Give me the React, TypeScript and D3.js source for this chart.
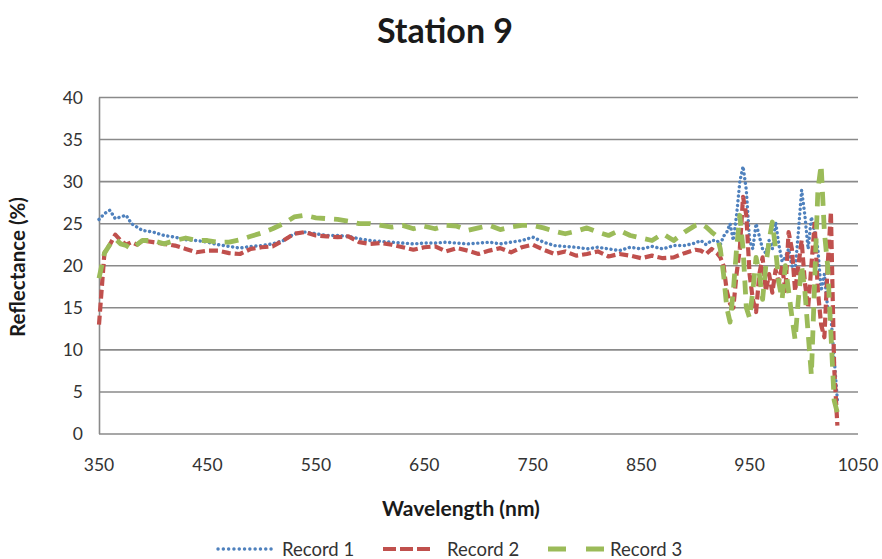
import React from "react";
import * as d3 from "d3";

const wavelengths = [
  350, 355, 360, 365, 370, 375, 380, 385, 390,
  400, 410, 420, 430, 440, 450, 460, 470, 480, 490,
  500, 510, 520, 530, 540, 550, 560, 570, 580, 590,
  600, 610, 620, 630, 640, 650, 660, 670, 680, 690,
  700, 710, 720, 730, 740, 750, 760, 770, 780, 790,
  800, 810, 820, 830, 840, 850, 860, 870, 880, 890, 900,
  905, 910, 915,
  920, 923, 926, 929, 932, 935, 938, 941, 944, 947, 950, 953, 956, 959, 962, 965, 968, 971, 974,
  977, 980, 983, 986, 989, 992, 995, 998, 1001, 1004, 1007, 1010, 1013, 1016, 1019, 1022, 1025, 1028, 1031,
];

const record1 = [
  25.5, 26.2, 26.6, 25.6, 25.8, 26.0, 25.0, 24.6, 24.2,
  24.0, 23.6, 23.4, 23.1, 23.0, 22.8, 22.5, 22.3, 22.1, 22.3,
  22.4, 22.6, 23.0, 23.8, 24.0, 23.8, 23.6, 23.6, 23.5, 23.2,
  23.0, 22.9, 22.8, 22.7, 22.6, 22.7, 22.7, 22.8, 22.7, 22.6,
  22.7, 22.8, 22.6, 22.8, 23.0, 23.4, 22.8, 22.4, 22.3, 22.2,
  22.0, 22.2, 22.0, 21.8, 22.2, 22.0, 22.3, 22.0, 22.4, 22.4, 22.7,
  23.0, 22.5, 23.0,
  23.0, 22.5, 23.5, 24.0, 25.0, 23.0, 26.0, 30.0, 31.8, 29.0, 23.0, 22.0, 25.0, 23.5, 22.0, 21.5, 23.0, 22.0, 25.2,
  22.5, 20.5, 21.0, 22.0, 20.0, 19.5, 24.0, 29.0, 26.0, 22.0, 25.8, 24.0, 22.0, 17.0, 19.0, 15.0, 14.0, 9.0, 4.0,
];

const record2 = [
  13.0, 21.5, 22.5, 23.7, 23.0, 22.5, 22.8, 22.5, 23.0,
  22.8, 22.6, 22.4, 22.0, 21.6, 21.8, 21.8, 21.5, 21.4, 22.0,
  22.2, 22.3, 23.0, 23.8, 24.0, 23.6, 23.5, 23.4, 23.5, 22.8,
  22.6, 22.7, 22.5, 22.2, 21.9, 22.2, 22.3, 21.7, 22.1, 21.8,
  21.4, 21.8, 22.1, 21.6, 22.2, 22.5, 21.9, 21.4, 21.7, 21.2,
  21.4, 21.7, 21.1, 21.4, 21.2, 20.9, 21.2, 20.9, 21.0, 21.5, 21.9,
  21.8, 21.4, 22.0,
  21.5, 21.0, 20.0, 17.0, 15.5, 15.0, 19.0, 22.0, 28.2, 26.0, 19.0, 16.0, 14.5, 19.0, 21.0, 17.0, 19.0, 16.8, 19.5,
  18.0, 20.0, 17.0, 24.0, 22.0, 17.0, 20.0, 23.0, 18.0, 15.0, 20.0, 25.0, 17.0, 13.0, 11.5, 20.0, 26.4, 8.0, 1.0,
];

const record3 = [
  18.5, 21.5, 22.5, 23.2, 22.6, 22.4, 22.0, 22.5, 23.0,
  23.0, 22.6, 23.0, 23.3, 23.0, 23.0, 22.8, 22.8, 23.1, 23.5,
  23.9, 24.4, 25.0, 25.8, 26.0, 25.7, 25.6, 25.5, 25.3, 25.0,
  25.0, 24.8, 24.6, 24.8, 24.4, 24.7, 24.4, 24.8, 24.7, 24.2,
  24.5, 24.8, 24.3, 24.6, 24.8, 24.8, 24.5, 24.1, 23.8, 24.1,
  24.5, 24.0, 23.6, 24.2, 23.6, 23.3, 23.0, 23.8, 23.0, 24.0, 24.8,
  25.0, 24.6, 24.0,
  23.5, 22.0, 19.0, 15.0, 13.3, 17.0, 22.0, 26.0, 22.0, 15.0, 13.8, 17.0, 21.0, 19.0, 16.0, 20.0, 23.0, 25.2, 22.0,
  18.0, 16.0, 20.0, 17.0, 14.0, 11.2, 16.0, 20.0, 17.0, 12.0, 7.0, 18.0, 29.0, 32.0, 24.0, 20.0, 12.0, 4.0, 2.5,
];

const seriesNames = ["Record 1", "Record 2", "Record 3"];
const yTicks = [0, 5, 10, 15, 20, 25, 30, 35, 40];
const xTicks = [350, 450, 550, 650, 750, 850, 950, 1050];

const seriesStyles = [
  { color: "#4F81BD", width: 3.4, dash: "0.1 4.6", cap: "round" as const },
  { color: "#C0504D", width: 4.2, dash: "9 4", cap: "butt" as const },
  { color: "#9BBB59", width: 4.8, dash: "14 9", cap: "butt" as const },
];

const FONT = "Lato, 'Open Sans', 'Liberation Sans', sans-serif";

export default function App() {
  const W = 882;
  const H = 559;
  const x = d3.scaleLinear().domain([350, 1050]).range([99, 858]);
  const y = d3.scaleLinear().domain([0, 40]).range([434, 97.5]);

  const data = [record1, record2, record3];
  const line = d3
    .line<number>()
    .x((_, i) => x(wavelengths[i]))
    .y((d) => y(d));

  const legendItems = [
    { lx: 218, len: 58, tx: 282, dash: "0.1 5.2" },
    { lx: 383, len: 48, tx: 447, dash: "13 4" },
    { lx: 548, len: 56, tx: 610, dash: "18 20" },
  ];

  return (
    <svg
      width={W}
      height={H}
      style={{ position: "absolute", left: 0, top: 0, background: "#fff" }}
      fontFamily={FONT}
    >
      <rect x={0} y={0} width={W} height={H} fill="#fff" />
      <text x={445} y={43} textAnchor="middle" fontSize={34} fontWeight="bold" fill="#1a1a1a">
        Station 9
      </text>

      {yTicks.map((t) => (
        <g key={t}>
          <line x1={99} x2={858} y1={y(t)} y2={y(t)} stroke="#8a8a8a" strokeWidth={1.6} />
          <text x={83} y={y(t) + 6} textAnchor="end" fontSize={17.5} fill="#333">
            {t}
          </text>
        </g>
      ))}
      <line x1={99.5} x2={99.5} y1={y(40)} y2={y(0)} stroke="#8a8a8a" strokeWidth={1.6} />

      {xTicks.map((t) => (
        <text key={t} x={x(t)} y={471} textAnchor="middle" fontSize={17.5} fill="#333">
          {t}
        </text>
      ))}

      {data.map((s, k) => (
        <path
          key={k}
          d={line(s) || ""}
          fill="none"
          stroke={seriesStyles[k].color}
          strokeWidth={seriesStyles[k].width}
          strokeDasharray={seriesStyles[k].dash}
          strokeLinecap={seriesStyles[k].cap}
          strokeLinejoin="round"
        />
      ))}

      <text x={461} y={516} textAnchor="middle" fontSize={21} fontWeight="bold" fill="#1a1a1a">
        Wavelength (nm)
      </text>
      <text
        transform={`translate(25, 267) rotate(-90)`}
        textAnchor="middle"
        fontSize={20.5}
        fontWeight="bold"
        fill="#1a1a1a"
      >
        Reflectance (%)
      </text>

      {seriesNames.map((name, k) => (
        <g key={name}>
          <line
            x1={legendItems[k].lx}
            x2={legendItems[k].lx + legendItems[k].len}
            y1={549}
            y2={549}
            stroke={seriesStyles[k].color}
            strokeWidth={seriesStyles[k].width}
            strokeDasharray={legendItems[k].dash}
            strokeLinecap={seriesStyles[k].cap}
          />
          <text x={legendItems[k].tx} y={556} fontSize={18.5} fill="#333">
            {name}
          </text>
        </g>
      ))}
    </svg>
  );
}
